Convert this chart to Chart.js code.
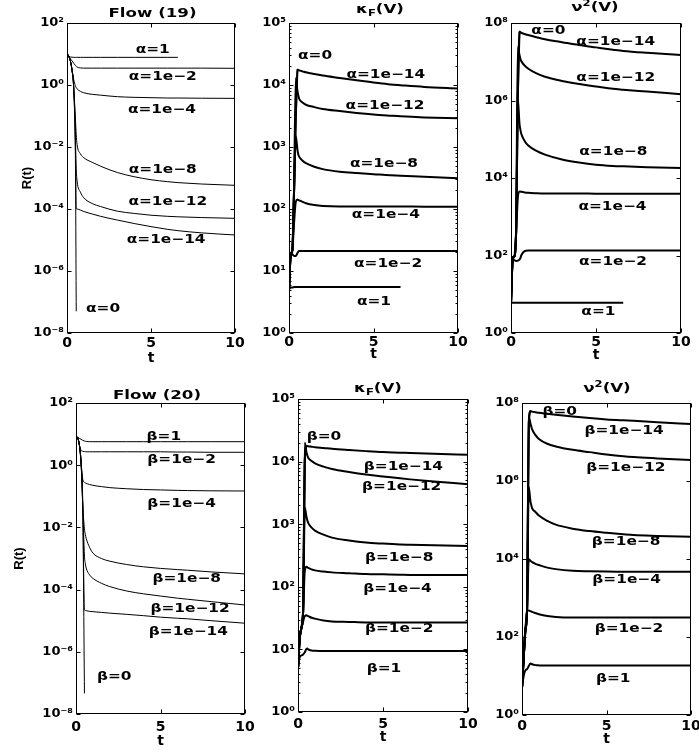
<!DOCTYPE html>
<html>
<head>
<meta charset="utf-8">
<script src="https://cdn.jsdelivr.net/npm/chart.js@4.4.1/dist/chart.umd.min.js"></script>
<style>
html,body{margin:0;padding:0;background:#fff;width:699px;height:753px;overflow:hidden}
canvas{position:absolute;left:0;top:0}
</style>
</head>
<body>
<canvas id="c1" width="699" height="753"></canvas>
<canvas id="c2" width="699" height="753"></canvas>
<canvas id="c3" width="699" height="753"></canvas>
<canvas id="c4" width="699" height="753"></canvas>
<canvas id="c5" width="699" height="753"></canvas>
<canvas id="c6" width="699" height="753"></canvas>
<script>
// ---------- data ----------
const tGrid = [0, 0.1, 0.2, 0.3, 0.4, 0.5, 0.55, 0.6, 0.8, 1, 1.5, 2, 3, 4, 5, 6, 6.6, 8, 10];
const xTicks = [0, 5, 10];
const yTicksFlow = [1e-8, 1e-6, 1e-4, 1e-2, 1e0, 1e2];
const yTicksKappa = [1e0, 1e1, 1e2, 1e3, 1e4, 1e5];
const yTicksNu = [1e0, 1e2, 1e4, 1e6, 1e8];
const labelsAlpha = ['α=1', 'α=1e−2', 'α=1e−4', 'α=1e−8', 'α=1e−12', 'α=1e−14', 'α=0'];
const labelsBeta = ['β=1', 'β=1e−2', 'β=1e−4', 'β=1e−8', 'β=1e−12', 'β=1e−14', 'β=0'];

// Flow (19), R(t)
const f19_a1  = [10.5, 8.3, 8, 7.9, 7.8, 7.8, 7.8, 7.8, 7.8, 7.8, 7.8, 7.8, 7.8, 7.8, 7.8, 7.8, 7.8, null, null];
const f19_a2  = [10.5, 8.5, 7, 6, 5, 4.3, 4.0, 3.8, 3.55, 3.5, 3.5, 3.5, 3.5, 3.5, 3.5, 3.5, 3.5, 3.5, 3.45];
const f19_a4  = [10.5, 8.5, 6, 3, 1.5, 0.95, 0.82, 0.75, 0.62, 0.56, 0.5, 0.47, 0.42, 0.40, 0.39, 0.38, 0.38, 0.375, 0.37];
const f19_a8  = [10.5, 8.5, 6, 3, 0.8, 0.08, 0.025, 0.012, 6e-3, 4.5e-3, 3.2e-3, 2.4e-3, 1.5e-3, 1.1e-3, 8.8e-4, 7.6e-4, 7.1e-4, 6.4e-4, 5.8e-4];
const f19_a12 = [10.5, 8.5, 6, 3, 0.8, 0.02, 2e-3, 8e-4, 3.5e-4, 2.3e-4, 1.5e-4, 1.2e-4, 8.5e-5, 7.2e-5, 6.3e-5, 5.8e-5, 5.6e-5, 5.3e-5, 5e-5];
const f19_a14 = [10.5, 8.5, 6, 3, 0.8, 0.01, 1.05e-4, 1e-4, 9.2e-5, 8.3e-5, 6.9e-5, 5.8e-5, 4.4e-5, 3.4e-5, 2.7e-5, 2.2e-5, 2.0e-5, 1.7e-5, 1.45e-5];
const f19_a0  = [10.5, 8.5, 6, 3, 0.8, 5e-3, 5e-8, null, null, null, null, null, null, null, null, null, null, null, null];

// kappa_F(V), alpha
const k19_a1  = [5, 5.4, 5.4, 5.5, 5.5, 5.5, 5.5, 5.5, 5.5, 5.5, 5.5, 5.5, 5.5, 5.5, 5.5, 5.5, 5.5, null, null];
const k19_a2  = [5, 19, 18.5, 17.5, 17.5, 19.5, 20.5, 21, 21, 21, 21, 21, 21, 21, 21, 21, 21, 21, 21];
const k19_a4  = [5, 18, 22, 60, 130, 142, 140, 138, 130, 124, 116, 112, 110, 110, 110, 110, 110, 109, 109];
const k19_a8  = [5, 18, 22, 200, 1500, 900, 760, 700, 600, 550, 480, 440, 400, 380, 365, 350, 345, 330, 313];
const k19_a12 = [5, 18, 22, 200, 13000, 8000, 6800, 6000, 5200, 4800, 4400, 4100, 3800, 3550, 3350, 3200, 3120, 3000, 2900];
const k19_a14 = [5, 18, 22, 200, 3000, 17800, 17500, 17200, 16600, 16000, 15000, 14200, 13000, 11900, 11000, 10200, 9900, 9300, 8800];
const k19_a0  = [5, 18, 22, 200, 3000, 18000, null, null, null, null, null, null, null, null, null, null, null, null, null];

// nu^2(V), alpha
const n19_a1  = [6, 6, 6, 6, 6, 6, 6, 6, 6, 6, 6, 6, 6, 6, 6, 6, 6, null, null];
const n19_a2  = [6, 80, 76, 72, 74, 78, 85, 100, 130, 135, 135, 135, 135, 135, 135, 135, 135, 135, 135];
const n19_a4  = [6, 80, 95, 400, 3000, 4500, 4450, 4400, 4250, 4150, 4050, 4000, 4000, 4000, 3950, 3950, 3950, 3900, 3900];
const n19_a8  = [6, 80, 95, 400, 1.1e6, 2.5e5, 1.8e5, 1.4e5, 9e4, 7e4, 5e4, 4e4, 3e4, 2.5e4, 2.2e4, 2.05e4, 2e4, 1.9e4, 1.8e4];
const n19_a12 = [6, 80, 95, 400, 2.4e7, 1.5e7, 1.2e7, 1.05e7, 8e6, 6.7e6, 5e6, 4.1e6, 3.2e6, 2.65e6, 2.3e6, 2e6, 1.9e6, 1.7e6, 1.45e6];
const n19_a14 = [6, 80, 95, 400, 1e6, 6e7, 5.8e7, 5.6e7, 5.2e7, 4.9e7, 4.3e7, 3.8e7, 3.2e7, 2.7e7, 2.35e7, 2.05e7, 1.9e7, 1.7e7, 1.5e7];
const n19_a0  = [6, 80, 95, 400, 1e6, 6e7, null, null, null, null, null, null, null, null, null, null, null, null, null];

// Flow (20), R(t)
const f20_b1  = [8.5, 8, 7.3, 6.8, 6.3, 6.0, 5.9, 5.8, 5.7, 5.7, 5.7, 5.7, 5.7, 5.7, 5.7, 5.7, 5.7, 5.7, 5.7];
const f20_b2  = [8.5, 7.5, 4.5, 3.0, 2.8, 2.75, 2.72, 2.7, 2.7, 2.7, 2.7, 2.7, 2.7, 2.7, 2.7, 2.65, 2.65, 2.6, 2.6];
const f20_b4  = [8.5, 7.5, 4.5, 1.2, 0.35, 0.28, 0.27, 0.26, 0.24, 0.225, 0.205, 0.19, 0.175, 0.165, 0.16, 0.155, 0.153, 0.15, 0.148];
const f20_b8  = [8.5, 7.5, 4.5, 1.2, 0.05, 9e-3, 6e-3, 4.5e-3, 2.3e-3, 1.5e-3, 1.0e-3, 8.2e-4, 6.4e-4, 5.4e-4, 4.8e-4, 4.4e-4, 4.2e-4, 3.7e-4, 3.2e-4];
const f20_b12 = [8.5, 7.5, 4.5, 1.2, 0.05, 1.2e-3, 7e-4, 5e-4, 3e-4, 2.3e-4, 1.6e-4, 1.25e-4, 9e-5, 7.3e-5, 6.2e-5, 5.3e-5, 4.9e-5, 4.1e-5, 3.2e-5];
const f20_b14 = [8.5, 7.5, 4.5, 1.2, 0.05, 2.2e-5, 2.15e-5, 2.1e-5, 2.0e-5, 1.95e-5, 1.85e-5, 1.75e-5, 1.6e-5, 1.45e-5, 1.3e-5, 1.2e-5, 1.15e-5, 1.0e-5, 8.3e-6];
const f20_b0  = [8.5, 7.5, 4.5, 1.2, 0.05, 4.6e-8, null, null, null, null, null, null, null, null, null, null, null, null, null];

// kappa_F(V), beta
const k20_b1  = [5, 7.5, 8, 8.3, 9, 10.2, 10.3, 10, 9.6, 9.5, 9.4, 9.4, 9.4, 9.4, 9.4, 9.4, 9.4, 9.4, 9.4];
const k20_b2  = [5, 15, 22, 28, 34, 35, 34.5, 34, 32, 31, 29, 28, 27.5, 27, 27, 27, 27, 27, 27];
const k20_b4  = [5, 15, 22, 40, 180, 210, 205, 200, 190, 183, 175, 170, 165, 160, 158, 156, 155, 155, 155];
const k20_b8  = [5, 15, 22, 40, 1850, 1300, 1150, 1050, 880, 790, 680, 610, 550, 510, 490, 475, 470, 460, 450];
const k20_b12 = [5, 15, 22, 40, 20000, 14000, 12500, 11500, 10200, 9400, 8300, 7600, 6800, 6200, 5800, 5400, 5200, 4800, 4350];
const k20_b14 = [5, 15, 22, 40, 10000, 17800, 17700, 17600, 17300, 17000, 16500, 16000, 15300, 14700, 14200, 13900, 13700, 13300, 12900];
const k20_b0  = [5, 15, 22, 40, 10000, 17800, null, null, null, null, null, null, null, null, null, null, null, null, null];

// nu^2(V), beta
const n20_b1  = [5, 10, 14, 15, 18, 21, 20.5, 20, 19, 18.7, 18.5, 18.5, 18.5, 18.5, 18.5, 18.5, 18.5, 18.5, 18.5];
const n20_b2  = [5, 30, 150, 470, 480, 460, 450, 440, 410, 385, 345, 325, 315, 315, 315, 315, 315, 315, 315];
const n20_b4  = [5, 30, 150, 500, 9800, 9000, 8600, 8300, 7500, 7000, 6000, 5500, 5000, 4850, 4750, 4700, 4700, 4700, 4700];
const n20_b8  = [5, 30, 150, 500, 7e5, 3e5, 2.4e5, 2e5, 1.6e5, 1.3e5, 9.5e4, 7.6e4, 6e4, 5.2e4, 4.7e4, 4.3e4, 4.1e4, 3.9e4, 3.7e4];
const n20_b12 = [5, 30, 150, 500, 4.5e7, 3e7, 2.5e7, 2.1e7, 1.5e7, 1.2e7, 9e6, 7.7e6, 6.3e6, 5.5e6, 4.8e6, 4.3e6, 4.1e6, 3.8e6, 3.45e6];
const n20_b14 = [5, 30, 150, 500, 3e7, 6.2e7, 6.1e7, 6e7, 5.8e7, 5.6e7, 5.3e7, 5e7, 4.5e7, 4.1e7, 3.8e7, 3.6e7, 3.5e7, 3.2e7, 2.9e7];
const n20_b0  = [5, 30, 150, 500, 3e7, 6.2e7, null, null, null, null, null, null, null, null, null, null, null, null, null];

// ---------- layout (positions/styles) ----------
const panels = [
  { id:'c1', area:[67,23,235,333], yW:47, xH:34, xPad:2, yMin:1e-8, yMax:1e2, yTicks:yTicksFlow, lw:1, yTitle:'R(t)',
    series:[f19_a1,f19_a2,f19_a4,f19_a8,f19_a12,f19_a14,f19_a0], text:labelsAlpha,
    pos:[[5.1,1.03],[5.7,0.16],[5.65,-0.9],[5.7,-2.84],[6.0,-3.87],[5.9,-5.1],[2.15,-7.31]],
    title:{parts:[['Flow (19)',13,0]], cx:152.5, base:17} },
  { id:'c2', area:[289,23,458,333], yW:40, xH:30, xPad:1, yMin:1, yMax:1e5, yTicks:yTicksKappa, lw:2, minor:true,
    series:[k19_a1,k19_a2,k19_a4,k19_a8,k19_a12,k19_a14,k19_a0], text:labelsAlpha,
    pos:[[5.03,0.45],[5.86,1.07],[5.73,1.85],[5.62,2.68],[5.68,3.62],[5.73,4.12],[1.54,4.42]],
    title:{parts:[['κ',13,0],['F',9,3],['(V)',13,0]], cx:380, base:13} },
  { id:'c3', area:[511,23,681,333], yW:40, xH:31, xPad:1, yMin:1, yMax:1e8, yTicks:yTicksNu, lw:2,
    series:[n19_a1,n19_a2,n19_a4,n19_a8,n19_a12,n19_a14,n19_a0], text:labelsAlpha,
    pos:[[5.14,0.46],[6.0,1.75],[5.97,3.17],[6.02,4.59],[6.16,6.50],[6.16,7.43],[2.2,7.72]],
    title:{parts:[['ν',13,0],['2',9,-5],['(V)',13,0]], cx:595, base:11} },
  { id:'c4', area:[76,403,245,714], yW:64, xH:36, xPad:5, yMin:1e-8, yMax:1e2, yTicks:yTicksFlow, lw:1, yTitle:'R(t)',
    series:[f20_b1,f20_b2,f20_b4,f20_b8,f20_b12,f20_b14,f20_b0], text:labelsBeta,
    pos:[[5.2,0.81],[6.25,0.06],[6.25,-1.33],[6.55,-3.75],[6.75,-4.71],[6.65,-5.46],[2.26,-6.91]],
    title:{parts:[['Flow (20)',13,0]], cx:157, base:399} },
  { id:'c5', area:[298,399,468,712], yW:40, xH:34, xPad:4, yMin:1, yMax:1e5, yTicks:yTicksKappa, lw:2, minor:true,
    series:[k20_b1,k20_b2,k20_b4,k20_b8,k20_b12,k20_b14,k20_b0], text:labelsBeta,
    pos:[[5.06,0.64],[5.95,1.28],[5.85,1.92],[5.95,2.42],[6.1,3.54],[6.2,3.86],[1.53,4.34]],
    title:{parts:[['κ',13,0],['F',9,3],['(V)',13,0]], cx:378, base:392} },
  { id:'c6', area:[522,403,691,715], yW:40, xH:33, xPad:3, yMin:1, yMax:1e8, yTicks:yTicksNu, lw:2,
    series:[n20_b1,n20_b2,n20_b4,n20_b8,n20_b12,n20_b14,n20_b0], text:labelsBeta,
    pos:[[5.4,0.84],[6.33,2.14],[6.19,3.38],[6.16,4.36],[6.14,6.26],[6.04,7.2],[2.23,7.69]],
    title:{parts:[['ν',13,0],['2',9,-5],['(V)',13,0]], cx:607, base:392} }
];

const SUP = {'0':'⁰','1':'¹','2':'²','3':'³','4':'⁴','5':'⁵','6':'⁶','7':'⁷','8':'⁸','9':'⁹','-':'⁻'};
function sup(v){
  const e = Math.round(Math.log10(v));
  return '10' + String(e).split('').map(c => SUP[c]).join('');
}
const FONT = 'DejaVu Sans';
const SX = 1.28;

function makeDecor(cfg){
  return {
    id: 'decor_' + cfg.id,
    afterDatasetsDraw(chart){
      const {ctx, chartArea:a} = chart;
      const xs = chart.scales.x, ys = chart.scales.y;
      ctx.save();
      ctx.strokeStyle = '#000';
      ctx.lineWidth = 1;
      const L = Math.round(a.left) + 0.5, R = Math.round(a.right) - 0.5;
      const T = Math.round(a.top) + 0.5, B = Math.round(a.bottom) - 0.5;
      ctx.strokeRect(L, T, R - L, B - T);
      ctx.beginPath();
      const tk = 4;
      cfg.yTicks.forEach(v => {
        const py = Math.round(ys.getPixelForValue(v)) + 0.5;
        ctx.moveTo(L, py); ctx.lineTo(L + tk, py);
        ctx.moveTo(R, py); ctx.lineTo(R - tk, py);
      });
      if (cfg.minor){
        for (let e = Math.round(Math.log10(cfg.yMin)); e < Math.round(Math.log10(cfg.yMax)); e++){
          for (let m = 2; m <= 9; m++){
            const py = Math.round(ys.getPixelForValue(m * Math.pow(10, e))) + 0.5;
            ctx.moveTo(L, py); ctx.lineTo(L + 2, py);
            ctx.moveTo(R, py); ctx.lineTo(R - 2, py);
          }
        }
      }
      xTicks.forEach(v => {
        const px = Math.round(xs.getPixelForValue(v)) + 0.5;
        ctx.moveTo(px, B); ctx.lineTo(px, B - tk);
        ctx.moveTo(px, T); ctx.lineTo(px, T + tk);
      });
      ctx.stroke();

      ctx.fillStyle = '#000';
      ctx.textBaseline = 'alphabetic';
      // title
      let w = 0;
      const widths = cfg.title.parts.map(([s, size]) => {
        ctx.font = 'bold ' + size + 'px "' + FONT + '"';
        const m = ctx.measureText(s).width; w += m; return m;
      });
      let x0 = cfg.title.cx - w * SX / 2;
      ctx.textAlign = 'left';
      cfg.title.parts.forEach(([s, size, dy], i) => {
        ctx.font = 'bold ' + size + 'px "' + FONT + '"';
        ctx.save();
        ctx.translate(x0, cfg.title.base + dy);
        ctx.scale(SX, 1);
        ctx.fillText(s, 0, 0);
        ctx.restore();
        x0 += widths[i] * SX;
      });
      // curve labels
      ctx.font = 'bold 12px "' + FONT + '"';
      ctx.textAlign = 'center';
      cfg.text.forEach((s, i) => {
        const [t, lg] = cfg.pos[i];
        const px = xs.getPixelForValue(t), py = ys.getPixelForValue(Math.pow(10, lg));
        ctx.save();
        ctx.translate(px, py);
        ctx.scale(SX, 1);
        ctx.fillText(s, 0, 0);
        ctx.restore();
      });
      ctx.restore();
    }
  };
}

panels.forEach(cfg => {
  const [L, T, R, B] = cfg.area;
  const datasets = cfg.series.map(vals => ({
    data: tGrid.map((t, i) => ({x: t, y: vals[i]})),
    borderColor: '#000',
    borderWidth: cfg.lw,
    pointRadius: 0,
    fill: false,
    cubicInterpolationMode: 'monotone',
    spanGaps: false
  }));
  new Chart(document.getElementById(cfg.id), {
    type: 'line',
    data: { datasets },
    options: {
      responsive: false,
      devicePixelRatio: 1,
      animation: false,
      events: [],
      layout: { padding: { left: L - cfg.yW, top: T, right: 699 - R, bottom: 753 - B - cfg.xH } },
      plugins: { legend: {display: false}, tooltip: {enabled: false}, title: {display: false} },
      scales: {
        x: {
          type: 'linear', min: 0, max: 10, position: 'bottom',
          afterBuildTicks: s => { s.ticks = xTicks.map(v => ({value: v})); },
          afterFit: s => { s.height = cfg.xH; s.paddingLeft = 0; s.paddingRight = 0; },
          grid: {display: false, drawTicks: false},
          border: {display: false},
          ticks: { font: {family: FONT, size: 14, weight: 'bold'}, color: '#000', padding: cfg.xPad,
                   maxRotation: 0, autoSkip: false, callback: v => String(v) },
          title: { display: true, text: 't', font: {family: FONT, size: 14, weight: 'bold'}, color: '#000', padding: 0 }
        },
        y: {
          type: 'logarithmic', min: cfg.yMin, max: cfg.yMax, position: 'left',
          afterBuildTicks: s => { s.ticks = cfg.yTicks.map(v => ({value: v})); },
          afterFit: s => { s.width = cfg.yW; s.paddingTop = 0; s.paddingBottom = 0; },
          grid: {display: false, drawTicks: false},
          border: {display: false},
          ticks: { font: {family: FONT, size: 13, weight: 'bold'}, color: '#000', padding: 3,
                   autoSkip: false, callback: v => sup(v) },
          title: cfg.yTitle ? { display: true, text: cfg.yTitle, font: {family: 'Liberation Sans', size: 13, weight: 'bold'}, color: '#000', padding: 0 }
                            : { display: false }
        }
      }
    },
    plugins: [makeDecor(cfg)]
  });
});
</script>
</body>
</html>
